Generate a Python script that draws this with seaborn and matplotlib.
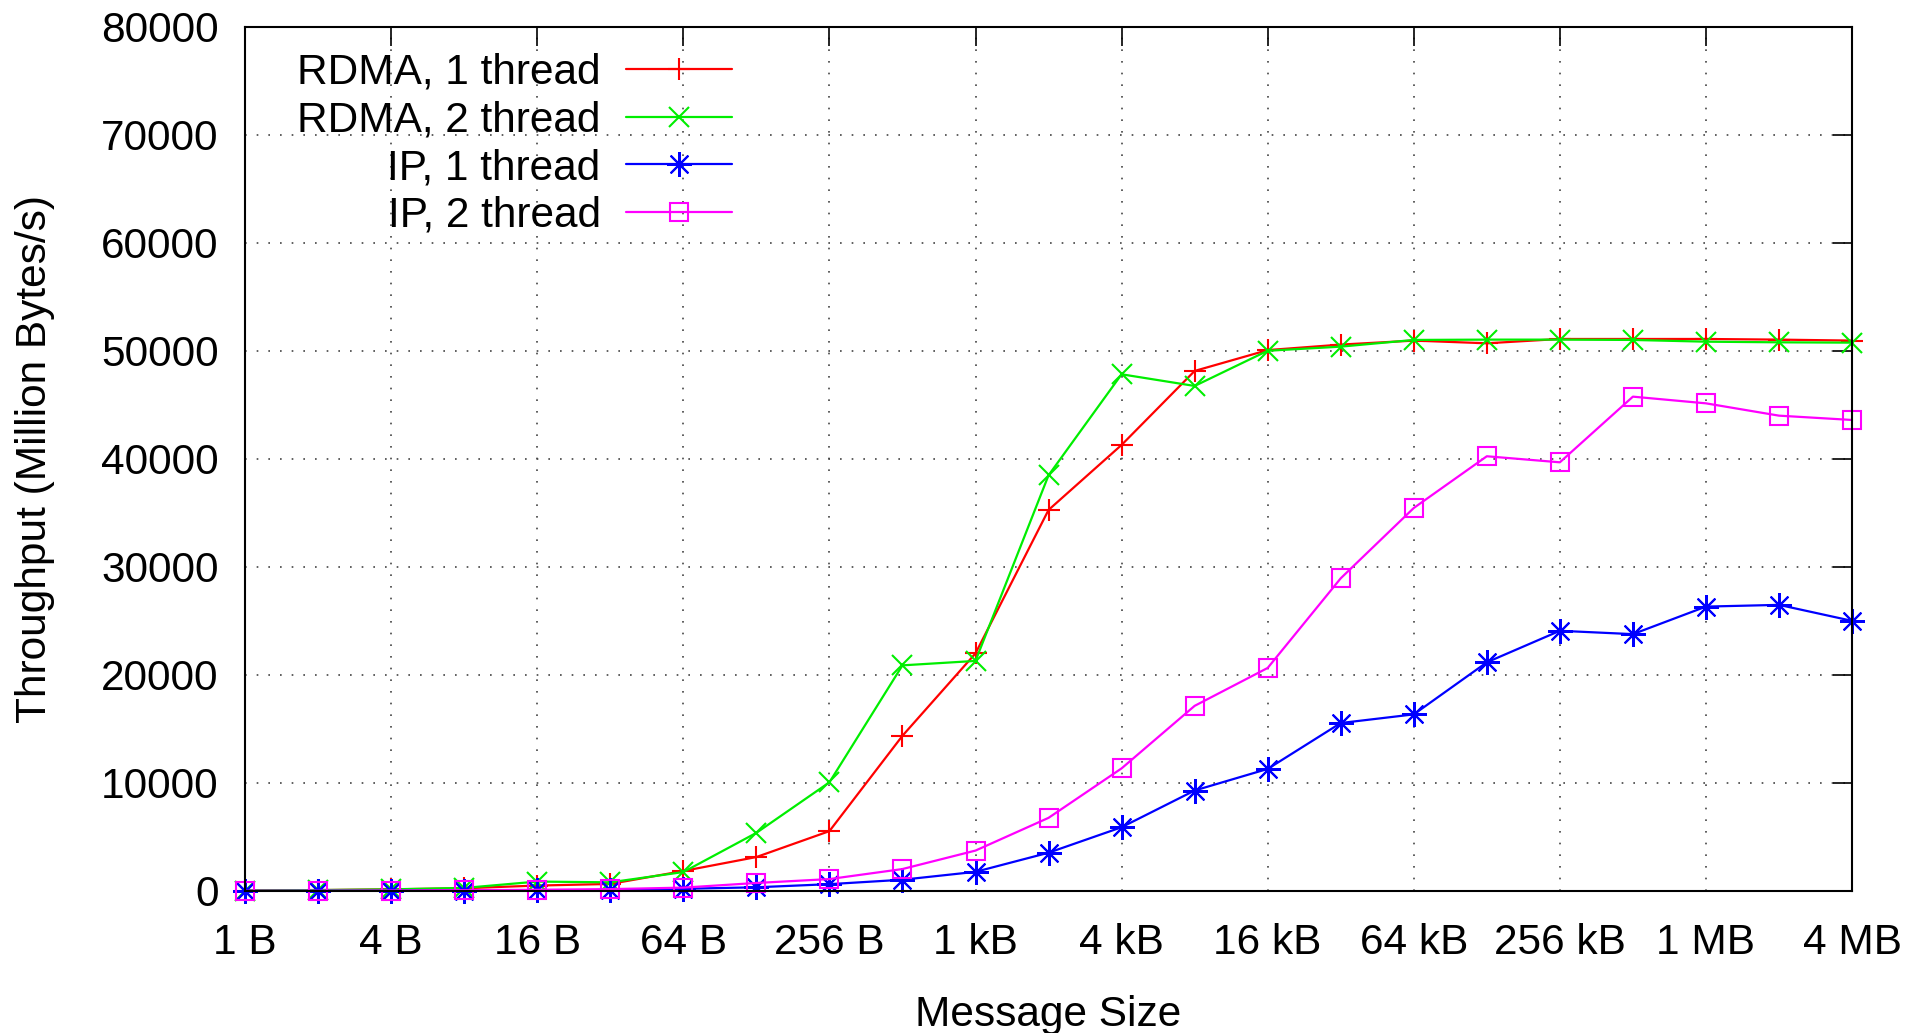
import numpy as np
import pandas as pd
import matplotlib
matplotlib.use("Agg")
import matplotlib.pyplot as plt
import seaborn as sns

# ---- data ----
sizes = [2 ** i for i in range(23)]  # 1 B .. 4 MB
rdma_1 = [40, 80, 150, 250, 500, 650, 1850, 3140, 5540, 14370, 22000, 35280, 41300,
          48150, 50080, 50590, 50960, 50710, 51110, 51110, 51110, 51050, 50960]
rdma_2 = [40, 80, 150, 280, 870, 800, 1750, 5380, 10060, 20890, 21300, 38490, 47840,
          46760, 50020, 50400, 51020, 51050, 51050, 51020, 50860, 50800, 50770]
ip_1 = [5, 10, 20, 40, 60, 90, 200, 340, 630, 1040, 1770, 3540, 5900,
        9300, 11300, 15550, 16350, 21170, 24090, 23780, 26330, 26490, 25010]
ip_2 = [10, 20, 40, 70, 110, 170, 310, 740, 1100, 2030, 3740, 6770, 11350,
        17140, 20650, 28950, 35460, 40250, 39690, 45770, 45150, 44010, 43610]
labels = ["RDMA, 1 thread", "RDMA, 2 thread", "IP, 1 thread", "IP, 2 thread"]
tick_pos = [4 ** k for k in range(12)]
tick_labels = ["1 B", "4 B", "16 B", "64 B", "256 B", "1 kB", "4 kB", "16 kB",
               "64 kB", "256 kB", "1 MB", "4 MB"]
y_ticks = list(range(0, 80001, 10000))

sns.set_style("white")
plt.rcParams["font.family"] = ["Liberation Sans", "DejaVu Sans"]
plt.rcParams["text.color"] = "black"
plt.rcParams["axes.labelcolor"] = "black"
plt.rcParams["xtick.color"] = "black"
plt.rcParams["ytick.color"] = "black"
FS = 30.5

fig = plt.figure(figsize=(19.22, 10.33), dpi=100)
ax = fig.add_axes([0.1275, 0.1375, 0.8361, 0.8364])

styles = [
    dict(color="#ff0000", marker="+", markersize=16, mew=1.5, mec="#ff0000"),
    dict(color="#00ee00", marker="x", markersize=14, mew=1.5, mec="#00ee00"),
    dict(color="#0000ff", marker=(8, 2, 0), markersize=18, mew=1.5, mec="#0000ff"),
    dict(color="#ff00ff", marker="s", markersize=13, mew=1.5, mec="#ff00ff", mfc="none"),
]
series = [rdma_1, rdma_2, ip_1, ip_2]
for vals, lab, st in zip(series, labels, styles):
    df = pd.DataFrame({"size": sizes, "tp": vals})
    sns.lineplot(data=df, x="size", y="tp", ax=ax, label=lab, lw=1.6,
                 errorbar=None, clip_on=False, zorder=3, **st)

ax.set_xscale("log", base=2)
ax.set_xlim(1, 2 ** 22)
ax.set_ylim(0, 80000)
ax.set_xticks(tick_pos)
ax.set_xticklabels(tick_labels)
ax.xaxis.set_minor_locator(matplotlib.ticker.NullLocator())
ax.set_yticks(y_ticks)
ax.set_yticklabels([str(v) for v in y_ticks])

ax.tick_params(axis="both", which="major", direction="in", length=13.5, width=1.2,
               color="black", labelcolor="black", labelsize=FS, top=True, right=True)
ax.tick_params(axis="y", pad=19)
ax.tick_params(axis="x", pad=23)

ax.grid(True, which="major", color="#444444", lw=1.2, ls=(0, (1, 6)))
for sp in ax.spines.values():
    sp.set_color("black")
    sp.set_linewidth(1.5)
    sp.set_visible(True)
    sp.set_zorder(4)

ax.set_xlabel("Message Size", fontsize=FS, labelpad=23, color="black")
ax.set_ylabel("Throughput (Million Bytes/s)", fontsize=FS, labelpad=33, color="black")

leg = ax.legend(loc="upper right", bbox_to_anchor=(0.303, 0.97), markerfirst=False,
                frameon=False, fontsize=FS, handlelength=2.5, handletextpad=0.6,
                labelspacing=0.18, borderpad=0, borderaxespad=0, numpoints=1)
for t in leg.get_texts():
    t.set_color("black")

fig.savefig("out.png", dpi=100)
